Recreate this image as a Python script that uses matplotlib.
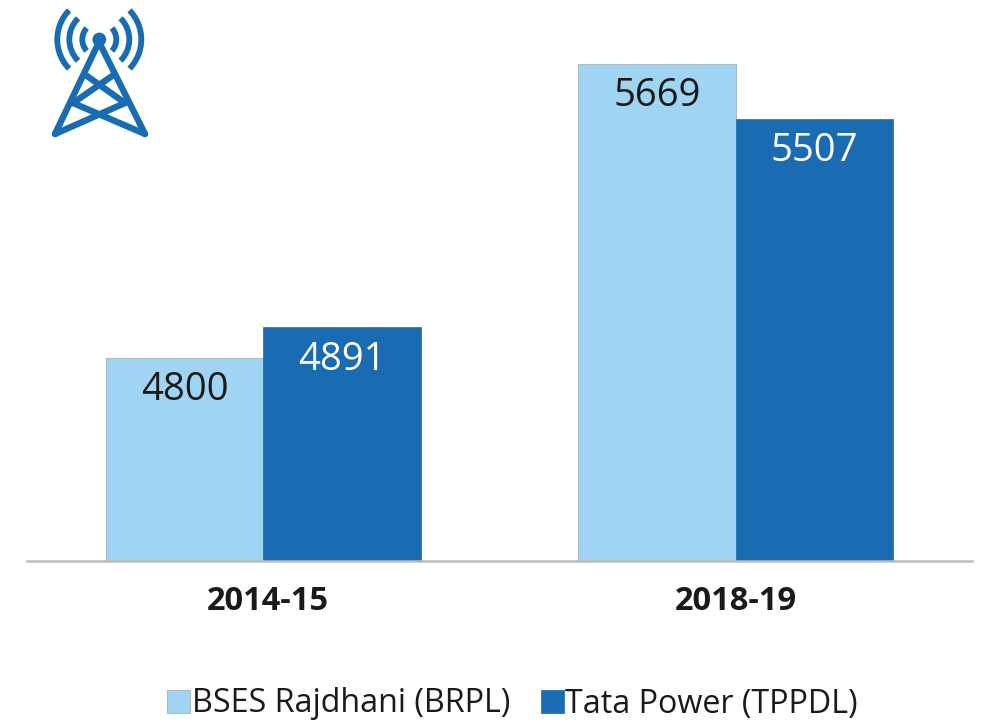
import numpy as np
import matplotlib
matplotlib.use("Agg")
import matplotlib.pyplot as plt
from matplotlib.patches import Arc, Circle
from matplotlib.transforms import ScaledTranslation

# ---------- data ----------
years = ["2014-15", "2018-19"]
brpl = [4800, 5669]
tppdl = [4891, 5507]
series_names = ["BSES Rajdhani (BRPL)", "Tata Power (TPPDL)"]

LIGHT = "#9fd5f3"
DARK = "#196bb2"
W, H = 987, 723

plt.rcParams["font.family"] = ["Open Sans", "DejaVu Sans"]

fig = plt.figure(figsize=(W / 100, H / 100), dpi=100)
ax = fig.add_axes([27 / W, (H - 561) / H, 945 / W, 561 / H])

x = np.arange(len(years))
bar_w = 1 / 3
b1 = ax.bar(x - bar_w / 2, brpl, bar_w, color=LIGHT, edgecolor="#a9bcc8", linewidth=0.8, label=series_names[0])
b2 = ax.bar(x + bar_w / 2, tppdl, bar_w, color=DARK, edgecolor=DARK, linewidth=0.5, label=series_names[1])

# value axis doesn't start at zero in the original
ax.set_ylim(4200, 5858)
ax.set_xlim(-0.5, 1.5)
ax.set_yticks([])
ax.set_xticks(x)
ax.set_xticklabels(years, fontsize=23.5, fontweight="bold", color="#1a1a1a")
ax.tick_params(axis="x", length=0, pad=17.5)
# first year label sits a little right of its group in the original
first = ax.get_xticklabels()[0]
first.set_transform(first.get_transform() + ScaledTranslation(4.5 / 100, 0, fig.dpi_scale_trans))
for side in ["top", "left", "right"]:
    ax.spines[side].set_visible(False)
ax.spines["bottom"].set_color("#bdbdbd")
ax.spines["bottom"].set_linewidth(1.8)

for bars, col in [(b1, "#1a1a1a"), (b2, "white")]:
    ax.bar_label(bars, label_type="edge", padding=-37, fontsize=27.5, color=col)

ax.legend(loc="center", bbox_to_anchor=(0.5 + 19 / W, (H - 704) / H), bbox_transform=fig.transFigure, ncol=2,
          frameon=False, fontsize=23.2, handlelength=0.72, handleheight=0.72,
          handletextpad=0.05, columnspacing=0.95, labelcolor="#1a1a1a", borderpad=0)

# tower icon, drawn in pixel coords on an overlay
icon = fig.add_axes([0, 0, 1, 1], facecolor="none")
icon.set_xlim(0, W)
icon.set_ylim(H, 0)
icon.axis("off")

cx, cy = 99.3, 39.5
icon.add_patch(Circle((cx, cy), 6.2, color=DARK))
for r, half in [(17, 42), (30, 45), (42, 44)]:
    for mid in [0, 180]:
        icon.add_patch(Arc((cx, cy), 2 * r, 2 * r, theta1=mid - half, theta2=mid + half,
                           color=DARK, lw=4.2))

tower = [
    [(99, 42), (55, 134)],
    [(99, 42), (145, 134)],
    [(55, 134), (125, 103)],
    [(145, 134), (73, 103)],
    [(73, 103), (112, 76)],
    [(125, 103), (87, 76)],
]
for seg in tower:
    xs, ys = zip(*seg)
    icon.plot(xs, ys, color=DARK, lw=4.6, solid_capstyle="round")

fig.savefig("out.png", dpi=100)
